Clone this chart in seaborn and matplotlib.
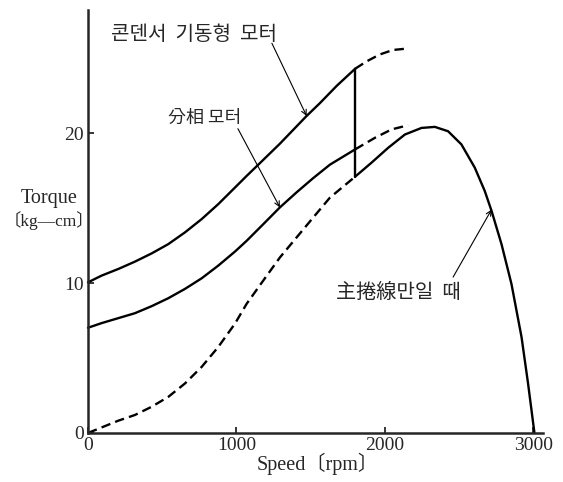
import matplotlib
matplotlib.use("Agg")
import matplotlib.pyplot as plt
import seaborn as sns

# 콘덴서 기동형 모터 (upper curve)
cap_speed = [0, 92, 204, 316, 429, 541, 653, 766, 877, 990, 1069, 1158, 1293, 1473, 1562, 1675, 1800]
cap_torque = [10.05, 10.5, 10.94, 11.43, 11.98, 12.6, 13.38, 14.27, 15.26, 16.37, 17.15, 18.0,
              19.3, 21.15, 22.0, 23.15, 24.3]
cap_speed_ext = [1800, 1879, 1966, 2054, 2155]
cap_torque_ext = [24.3, 24.8, 25.25, 25.55, 25.65]

# 分相 모터 (middle curve)
split_speed = [0, 92, 204, 316, 429, 541, 653, 766, 877, 990, 1069, 1181, 1293, 1405, 1517, 1630, 1800]
split_torque = [7.02, 7.33, 7.66, 7.99, 8.46, 8.99, 9.61, 10.32, 11.16, 12.1, 12.82, 13.93,
                15.05, 16.05, 17.0, 17.9, 18.92]
split_speed_ext = [1800, 1933, 2045, 2157]
split_torque_ext = [18.92, 19.69, 20.25, 20.53]

# 主捲線만일 때 (lower curve)
main_speed_start = [0, 204, 316, 429, 541, 653, 766, 877, 990, 1069, 1181, 1293, 1405, 1517, 1630, 1800]
main_torque_start = [0.0, 0.82, 1.2, 1.75, 2.41, 3.3, 4.41, 5.73, 7.29, 8.62, 10.17, 11.71,
                     13.04, 14.37, 15.7, 17.1]
main_speed = [1800, 1910, 2022, 2135, 2247, 2337, 2426, 2516, 2606, 2673, 2719, 2786, 2853,
              2921, 2965, 3008]
main_torque = [17.1, 18.03, 19.02, 19.91, 20.35, 20.42, 20.13, 19.25, 17.7, 16.15, 14.82, 12.6,
               9.95, 6.4, 3.3, 0.0]

# switch-over speed
switch_speed = [1800, 1800]
switch_torque = [17.1, 24.3]

x_ticks = [0, 1000, 2000, 3000]
y_ticks = [0, 10, 20]

sns.set_style("ticks")
plt.rcParams["font.family"] = ["Liberation Serif", "Noto Sans CJK KR"]
serif = ["Liberation Serif", "Noto Sans CJK KR"]
kor = ["Noto Sans CJK KR", "DejaVu Sans"]

fig = plt.figure(figsize=(5.63, 4.82), dpi=100)
ax = fig.add_axes([0.1563, 0.1017, 0.808, 0.877])

solid = dict(color="black", linewidth=1.7, estimator=None, sort=False, ax=ax)
dashed = dict(color="black", linewidth=1.7, estimator=None, sort=False, ax=ax,
              linestyle=(0, (4.0, 2.2)))

sns.lineplot(x=cap_speed, y=cap_torque, **solid)
sns.lineplot(x=cap_speed_ext, y=cap_torque_ext, **dashed)
sns.lineplot(x=split_speed, y=split_torque, **solid)
sns.lineplot(x=split_speed_ext, y=split_torque_ext, **dashed)
sns.lineplot(x=main_speed_start, y=main_torque_start, **dashed)
sns.lineplot(x=main_speed, y=main_torque, **solid)
sns.lineplot(x=switch_speed, y=switch_torque, **solid)
for ln in ax.lines:
    ln.set_clip_on(False)

ax.set_xlim(0, 3065)
ax.set_ylim(0, 28.2)
ax.set_xticks(x_ticks)
ax.set_yticks(y_ticks)
ax.set_xticklabels([str(v) for v in x_ticks], family=serif, fontsize=14)
ax.set_yticklabels([str(v) for v in y_ticks], family=serif, fontsize=14)
ax.tick_params(direction="in", length=4, width=1.3, pad=3)
sns.despine(ax=ax)
ax.spines["left"].set_linewidth(1.8)
ax.spines["bottom"].set_linewidth(1.8)

fig.text(0.565, 0.038, "Speed〔rpm〕", ha="center", va="center", family=serif, fontsize=14.5)
fig.text(0.087, 0.589, "Torque", ha="center", va="center", family=serif, fontsize=14.5)
fig.text(0.087, 0.543, "〔kg—cm〕", ha="center", va="center", family=serif, fontsize=12.5)

arrow = dict(arrowstyle="->", color="black", lw=0.8, shrinkA=0, shrinkB=0, mutation_scale=9)
ax.text(714, 26.6, "콘덴서  기동형  모터", ha="center", va="center", family=kor, fontsize=14.5)
ax.annotate("", xy=(1473, 21.15), xytext=(1239, 26.0), arrowprops=arrow)
ax.text(788, 21.0, "分相 모터", ha="center", va="center", family=kor, fontsize=13)
ax.annotate("", xy=(1293, 15.05), xytext=(1010, 20.3), arrowprops=arrow)
ax.text(2090, 9.4, "主捲線만일  때", ha="center", va="center", family=kor, fontsize=14.5)
ax.annotate("", xy=(2719, 14.9), xytext=(2460, 10.4), arrowprops=arrow)

plt.savefig("out.png", dpi=100)
plt.close()
